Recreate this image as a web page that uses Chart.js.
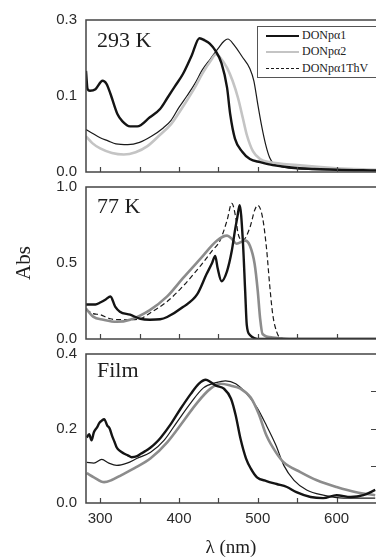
<!DOCTYPE html>
<html>
<head>
<meta charset="utf-8">
<title>Absorption spectra</title>
<script src="https://cdn.jsdelivr.net/npm/chart.js@4.4.0/dist/chart.umd.min.js"></script>
<style>
  html, body { margin: 0; padding: 0; background: #fff; }
  #wrap { position: relative; width: 376px; height: 558px; overflow: hidden; }
  .box { position: absolute; left: 0; width: 376px; }
  .tag { position: absolute; left: 97px; font-family: "Liberation Serif", serif; font-size: 22px; line-height: 1; color: #1e1e1e; z-index: 2; }
  #legend { position: absolute; left: 257px; top: 26px; width: 130px; height: 50px; border: 1px solid #555; background: #fff; z-index: 3;
            font-family: "Liberation Serif", serif; font-size: 12px; color: #222; }
  #legend .row { position: absolute; left: 0; height: 14px; line-height: 14px; }
  #legend .swatch { position: absolute; left: 8px; width: 33px; top: 7px; }
  #legend .txt { position: absolute; left: 44px; top: 0; white-space: nowrap; }
</style>
</head>
<body>
<div id="wrap">
  <div class="box" style="top:0px;height:180px"><canvas id="panel1"></canvas></div>
  <div class="box" style="top:178px;height:170px"><canvas id="panel2"></canvas></div>
  <div class="box" style="top:345px;height:213px"><canvas id="panel3"></canvas></div>
  <div class="tag" style="top:29px">293 K</div>
  <div class="tag" style="top:195px">77 K</div>
  <div class="tag" style="top:359px">Film</div>
  <div id="legend"></div>
</div>
<script>
// Absorption spectra of DONpα1 / DONpα2 / DONpα1ThV at 293 K, 77 K and as film

// -- Names and axis ticks --
const seriesNames = ['DONpα1', 'DONpα2', 'DONpα1ThV'];
const xTickLabels = [300, 400, 500, 600];
const xTickMarks = [300, 350, 400, 450, 500, 550, 600];
const p1TickValues = [0, 0.1, 0.2];
const p1TickLabels = ['0.0', '0.1', '0.3'];
const p2TickValues = [0, 0.5, 1.0];
const p2TickLabels = ['0.0', '0.5', '1.0'];
const p3TickValues = [0, 0.2, 0.4];
const p3TickLabels = ['0.0', '0.2', '0.4'];
const p3RightTicks = [0.1, 0.2, 0.3];

// -- 293 K --
const p1WlA1 = [282, 284, 287, 294, 303, 308, 313, 322, 328, 338, 347, 363, 376, 385, 395, 405, 416, 426, 433, 439, 446, 454, 461, 465, 471, 480, 490, 503, 519, 553, 600, 650];
const p1AbsA1 = [0.133, 0.109, 0.107, 0.109, 0.12, 0.116, 0.103, 0.076, 0.067, 0.06, 0.06, 0.072, 0.083, 0.097, 0.113, 0.129, 0.153, 0.176, 0.173, 0.169, 0.16, 0.143, 0.111, 0.076, 0.044, 0.027, 0.017, 0.013, 0.009, 0.005, 0.003, 0.002];
const p1WlA2 = [282, 290, 300, 315, 330, 345, 360, 375, 390, 400, 410, 420, 430, 440, 447, 452, 461, 468, 475, 481, 486, 494, 503, 515, 550, 600, 650];
const p1AbsA2 = [0.047, 0.038, 0.031, 0.025, 0.023, 0.026, 0.034, 0.048, 0.063, 0.078, 0.094, 0.111, 0.13, 0.146, 0.155, 0.151, 0.137, 0.12, 0.097, 0.071, 0.049, 0.027, 0.017, 0.013, 0.009, 0.005, 0.003];
const p1WlThv = [282, 290, 300, 310, 320, 335, 350, 365, 380, 390, 400, 410, 420, 430, 440, 450, 457, 462, 470, 480, 490, 495, 500, 505, 510, 515, 520, 530, 550, 600, 650];
const p1AbsThv = [0.056, 0.051, 0.045, 0.041, 0.037, 0.036, 0.039, 0.047, 0.058, 0.068, 0.085, 0.1, 0.116, 0.135, 0.149, 0.163, 0.172, 0.175, 0.167, 0.152, 0.136, 0.12, 0.089, 0.06, 0.036, 0.019, 0.011, 0.007, 0.004, 0.003, 0.002];

// -- 77 K --
const p2WlA1 = [282, 294, 300, 307, 313, 319, 325, 338, 351, 363, 376, 385, 405, 423, 435, 442, 446, 449, 454, 461, 467, 471, 474, 477, 481, 484, 486, 490, 503, 650];
const p2AbsA1 = [0.227, 0.227, 0.24, 0.26, 0.28, 0.213, 0.18, 0.16, 0.133, 0.127, 0.13, 0.145, 0.21, 0.293, 0.427, 0.5, 0.547, 0.467, 0.38, 0.447, 0.58, 0.713, 0.8, 0.88, 0.65, 0.313, 0.093, 0.027, 0.0, 0.0];
const p2WlA2 = [282, 291, 304, 321, 338, 363, 385, 405, 427, 448, 461, 467, 473, 484, 490, 496, 500, 503, 506, 519, 540, 650];
const p2AbsA2 = [0.2, 0.147, 0.127, 0.113, 0.127, 0.19, 0.28, 0.4, 0.527, 0.647, 0.68, 0.66, 0.627, 0.647, 0.613, 0.493, 0.313, 0.133, 0.033, 0.01, 0.0, 0.0];
const p2WlThv = [282, 291, 300, 313, 325, 338, 351, 363, 385, 405, 427, 442, 452, 461, 467, 472, 475, 481, 490, 496, 500, 506, 511, 515, 519, 524, 528, 540, 650];
const p2AbsThv = [0.193, 0.167, 0.16, 0.133, 0.127, 0.127, 0.133, 0.17, 0.247, 0.347, 0.48, 0.58, 0.647, 0.78, 0.893, 0.8, 0.693, 0.65, 0.733, 0.847, 0.88, 0.8, 0.6, 0.36, 0.16, 0.047, 0.01, 0.0, 0.0];

// -- Film --
const p3WlA1 = [283, 286, 289, 292, 296, 299, 302, 305, 309, 312, 315, 318, 321, 325, 330, 335, 340, 346, 352, 358, 364, 370, 377, 390, 402, 415, 425, 434, 440, 447, 457, 466, 472, 478, 485, 491, 499, 511, 524, 537, 549, 567, 583, 600, 618, 634, 649];
const p3AbsA1 = [0.176, 0.185, 0.168, 0.19, 0.203, 0.215, 0.221, 0.225, 0.208, 0.2, 0.181, 0.165, 0.149, 0.14, 0.133, 0.128, 0.123, 0.125, 0.133, 0.14, 0.149, 0.16, 0.176, 0.213, 0.253, 0.293, 0.32, 0.331, 0.325, 0.315, 0.307, 0.28, 0.235, 0.173, 0.12, 0.093, 0.069, 0.059, 0.051, 0.043, 0.029, 0.016, 0.013, 0.021, 0.016, 0.021, 0.035];
const p3WlA2 = [283, 292, 305, 314, 327, 343, 364, 385, 406, 423, 440, 453, 466, 478, 491, 501, 511, 523, 533, 554, 575, 600, 625, 649];
const p3AbsA2 = [0.08, 0.069, 0.056, 0.061, 0.075, 0.093, 0.12, 0.163, 0.221, 0.269, 0.307, 0.32, 0.315, 0.307, 0.283, 0.24, 0.181, 0.136, 0.109, 0.083, 0.061, 0.043, 0.029, 0.021];
const p3WlThv = [283, 292, 302, 311, 321, 334, 347, 364, 381, 397, 415, 431, 447, 459, 472, 486, 499, 511, 523, 533, 546, 562, 583, 609, 634, 649];
const p3AbsThv = [0.109, 0.107, 0.117, 0.107, 0.101, 0.107, 0.12, 0.136, 0.168, 0.216, 0.269, 0.309, 0.323, 0.328, 0.32, 0.293, 0.256, 0.208, 0.155, 0.101, 0.061, 0.035, 0.021, 0.013, 0.013, 0.013];

function pts(wl, abs) {
  return wl.map((w, i) => ({ x: w, y: abs[i] }));
}

// frame box + inward tick marks, drawn from the chart's own scales
const frameTicks = {
  id: 'frameTicks',
  afterDatasetsDraw(chart, args, opts) {
    const { ctx, chartArea: a, scales: { x, y } } = chart;
    ctx.save();
    ctx.strokeStyle = '#444';
    ctx.lineWidth = 1.5;
    ctx.strokeRect(a.left, a.top, a.right - a.left + 10, a.bottom - a.top);
    ctx.beginPath();
    xTickMarks.forEach(v => {
      const px = Math.round(x.getPixelForValue(v)) + 0.5;
      ctx.moveTo(px, a.bottom);
      ctx.lineTo(px, a.bottom - 5);
    });
    (opts.right || []).forEach(v => {
      const py = Math.round(y.getPixelForValue(v)) + 0.5;
      ctx.moveTo(a.right, py);
      ctx.lineTo(a.right - 5, py);
    });
    ctx.lineWidth = 1.2;
    ctx.stroke();
    ctx.restore();
  }
};

const tickFont = { family: 'Liberation Sans', size: 15 };

function makePanel(id, datasets, yMax, tickValues, tickLabels, opts) {
  return new Chart(document.getElementById(id), {
    type: 'line',
    data: { datasets: datasets },
    plugins: [frameTicks],
    options: {
      responsive: true,
      maintainAspectRatio: false,
      animation: false,
      layout: { padding: opts.padding },
      elements: { point: { radius: 0 }, line: { cubicInterpolationMode: 'monotone' } },
      scales: {
        x: {
          type: 'linear',
          min: 282,
          max: 650,
          display: opts.showX,
          grid: { display: false, drawTicks: false },
          border: { display: false },
          afterBuildTicks: s => { s.ticks = xTickLabels.map(v => ({ value: v })); },
          ticks: { color: '#2a2a2a', font: tickFont, padding: 7, maxRotation: 0 },
          title: {
            display: opts.showX,
            text: 'λ (nm)',
            color: '#1e1e1e',
            font: { family: 'Liberation Serif', size: 19, lineHeight: 1 },
            padding: 0
          },
          afterFit: s => { s.height = opts.showX ? 55 : 0; }
        },
        y: {
          type: 'linear',
          min: 0,
          max: yMax,
          grid: { display: false, drawTicks: false },
          border: { display: false },
          afterBuildTicks: s => { s.ticks = tickValues.map(v => ({ value: v })); },
          ticks: { color: '#2a2a2a', font: tickFont, padding: 9, callback: (v, i) => tickLabels[i] },
          title: {
            display: !!opts.yTitle,
            text: opts.yTitle || '',
            color: '#1e1e1e',
            font: { family: 'Liberation Serif', size: 21, lineHeight: 1 },
            padding: { top: 14 }
          },
          // fixed axis width; let layout padding alone decide the plot's top and bottom
          afterFit: s => { s.width = 86; s.paddingTop = 0; s.paddingBottom = 0; }
        }
      },
      plugins: {
        legend: { display: false },
        tooltip: { enabled: false },
        frameTicks: { right: opts.rightTicks || [] }
      }
    }
  });
}

// 293 K
makePanel('panel1', [
  { label: seriesNames[0], data: pts(p1WlA1, p1AbsA1), borderColor: '#141414', borderWidth: 2.4 },
  { label: seriesNames[1], data: pts(p1WlA2, p1AbsA2), borderColor: '#c4c4c4', borderWidth: 2.6 },
  { label: seriesNames[2], data: pts(p1WlThv, p1AbsThv), borderColor: '#1a1a1a', borderWidth: 1.2 }
], 0.2, p1TickValues, p1TickLabels, { padding: { top: 20, bottom: 8, left: 0, right: 0 }, showX: false });

// 77 K
makePanel('panel2', [
  { label: seriesNames[0], data: pts(p2WlA1, p2AbsA1), borderColor: '#141414', borderWidth: 2.4 },
  { label: seriesNames[1], data: pts(p2WlA2, p2AbsA2), borderColor: '#8c8c8c', borderWidth: 2.6 },
  { label: seriesNames[2], data: pts(p2WlThv, p2AbsThv), borderColor: '#1a1a1a', borderWidth: 1.2, borderDash: [5, 3] }
], 1.0, p2TickValues, p2TickLabels, { padding: { top: 9, bottom: 9, left: 0, right: 0 }, showX: false, yTitle: 'Abs' });

// Film
makePanel('panel3', [
  { label: seriesNames[0], data: pts(p3WlA1, p3AbsA1), borderColor: '#141414', borderWidth: 2.4 },
  { label: seriesNames[1], data: pts(p3WlA2, p3AbsA2), borderColor: '#8c8c8c', borderWidth: 2.6 },
  { label: seriesNames[2], data: pts(p3WlThv, p3AbsThv), borderColor: '#1a1a1a', borderWidth: 1.2 }
], 0.4, p3TickValues, p3TickLabels, { padding: { top: 9, bottom: 0, left: 0, right: 0 }, showX: true, rightTicks: p3RightTicks });

// -- Legend box (top panel) --
const legendStyles = [
  'border-top: 2.5px solid #141414',
  'border-top: 2px solid #c4c4c4',
  'border-top: 1.5px dashed #1a1a1a'
];
const rowTops = [1, 17, 34];
const legendEl = document.getElementById('legend');
seriesNames.forEach((name, i) => {
  const row = document.createElement('div');
  row.className = 'row';
  row.style.top = rowTops[i] + 'px';
  row.innerHTML = '<span class="swatch" style="' + legendStyles[i] + '"></span><span class="txt">' + name + '</span>';
  legendEl.appendChild(row);
});
</script>
</body>
</html>
